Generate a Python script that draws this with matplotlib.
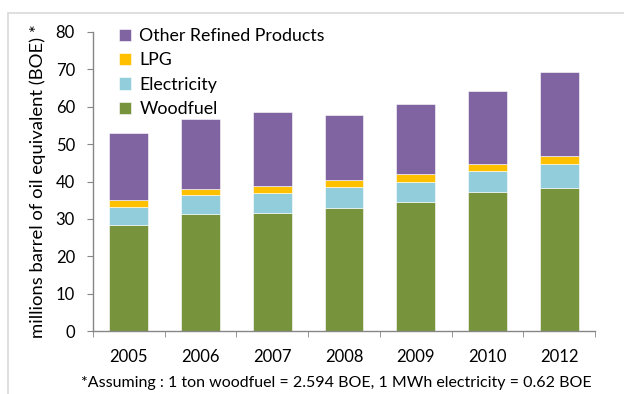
import matplotlib.pyplot as plt
from matplotlib.patches import Rectangle
import numpy as np

plt.rcParams['font.family'] = ['Lato', 'DejaVu Sans']

# data
years = ['2005', '2006', '2007', '2008', '2009', '2010', '2012']
woodfuel = [28.3, 31.3, 31.6, 33.0, 34.4, 37.3, 38.2]
electricity = [4.8, 5.0, 5.4, 5.4, 5.5, 5.5, 6.4]
lpg = [2.0, 1.7, 1.8, 1.9, 2.0, 2.0, 2.3]
other_refined = [17.8, 18.6, 19.8, 17.5, 18.8, 19.4, 22.4]

series = [('Woodfuel', woodfuel, '#77933C'),
          ('Electricity', electricity, '#92CDDC'),
          ('LPG', lpg, '#FFC000'),
          ('Other Refined Products', other_refined, '#8064A2')]

fig = plt.figure(figsize=(6.24, 3.94), dpi=100)
ax = fig.add_axes([93 / 624, 1 - 331 / 394, 502 / 624, 299 / 394])

# outer chart border
fig.patches.append(Rectangle((8 / 624, -0.1), 1.2, 1 - 13 / 394 + 0.1,
                             transform=fig.transFigure, fill=False,
                             edgecolor='#D9D9D9', linewidth=1.2))

x = np.arange(len(years))
bottom = np.zeros(len(years))
handles = []
for name, vals, col in series:
    b = ax.bar(x, vals, width=0.54, bottom=bottom, color=col,
               edgecolor='#ffffff', linewidth=0.4, label=name)
    bottom += np.array(vals)
    handles.append(b)

ax.set_xlim(-0.5, len(years) - 0.5)
ax.set_ylim(0, 80)
ax.set_yticks(range(0, 81, 10))
ax.set_xticks(x)
ax.set_xticklabels(years)
ax.set_xticks(np.arange(-0.5, len(years)), minor=True)

for s in ['top', 'right']:
    ax.spines[s].set_visible(False)
for s in ['left', 'bottom']:
    ax.spines[s].set_color('#868686')
    ax.spines[s].set_linewidth(1)

ax.tick_params(axis='y', direction='out', length=4, color='#868686',
               labelsize=12, pad=9)
ax.tick_params(axis='x', which='major', length=0, labelsize=12, pad=13)
ax.tick_params(axis='x', which='minor', direction='out', length=4,
               color='#868686')

ax.set_ylabel('millions barrel of oil equivalent (BOE) *', fontsize=13.3,
              labelpad=7)

ax.legend(handles[::-1], [h.get_label() for h in handles[::-1]],
          loc='upper left', bbox_to_anchor=(119 / 624, 1 - 28 / 394),
          bbox_transform=fig.transFigure, frameon=False, fontsize=12.8,
          handlelength=0.7, handleheight=0.7, handletextpad=0.45,
          labelspacing=0.47, borderpad=0, borderaxespad=0)

fig.text(336 / 624, 1 - 383 / 394,
         '*Assuming : 1 ton woodfuel = 2.594 BOE, 1 MWh electricity = 0.62 BOE',
         ha='center', va='center', fontsize=11.5)

fig.savefig('out.png', dpi=100)
